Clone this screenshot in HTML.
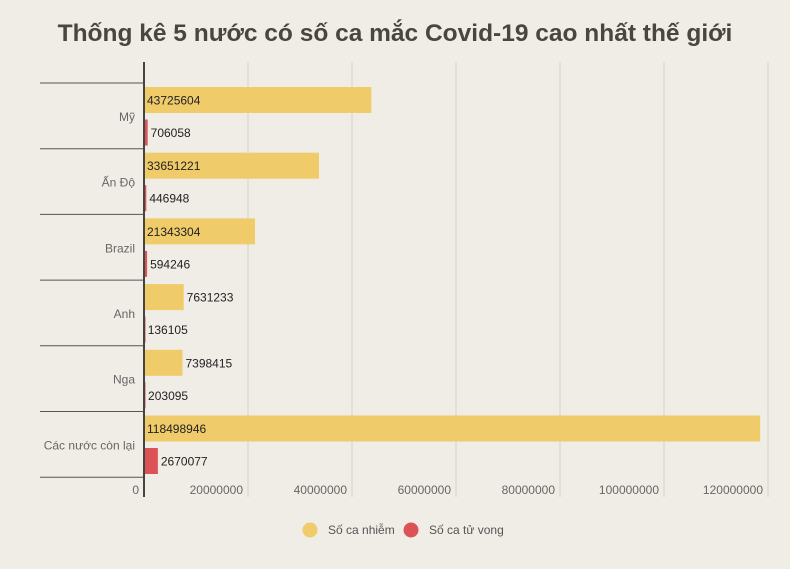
<!DOCTYPE html>
<html><head><meta charset="utf-8"><style>
html,body{margin:0;padding:0;background:#f0ede7;}
body{width:790px;height:569px;overflow:hidden;font-family:"Liberation Sans","Noto Sans CJK SC",sans-serif;}
h1{position:absolute;left:0;width:790px;top:20px;margin:0;text-align:center;font-size:24.5px;font-weight:bold;color:#4a4540;}
</style></head><body>
<h1>Thống kê 5 nước có số ca mắc Covid-19 cao nhất thế giới</h1>
<svg id="chart" width="790" height="569" style="position:absolute;left:0;top:0" xmlns="http://www.w3.org/2000/svg"></svg>
<script>
const categories=["Mỹ","Ấn Độ","Brazil","Anh","Nga","Các nước còn lại"];
const cases=[43725604,33651221,21343304,7631233,7398415,118498946];
const deaths=[706058,446948,594246,136105,203095,2670077];
const ticks=[0,20000000,40000000,60000000,80000000,100000000,120000000];
const seriesNames=["Số ca nhiễm","Số ca tử vong"];
const colors=["#f0cb69","#dc5357"];
const svg=document.getElementById('chart');
const NS="http://www.w3.org/2000/svg";
const x0=144,pxPer=104/20000000,y0=83,band=65.7;
const x=v=>x0+v*pxPer;
function mk(t,a,txt){const e=document.createElementNS(NS,t);for(const k in a)e.setAttribute(k,a[k]);if(txt!=null)e.textContent=txt;svg.appendChild(e);return e;}
ticks.forEach(t=>{
  if(t>0){const g=mk('line',{x1:x(t),x2:x(t),y1:62,y2:497,stroke:'#d6d2cb','stroke-width':1});
  
  }
  const l=mk('text',{x:x(t)-5,y:494,'text-anchor':'end','font-size':12,fill:'#666'},String(t));
  
  
});
for(let i=0;i<=categories.length;i++){
  const s=mk('line',{x1:40,x2:x0,y1:y0+i*band,y2:y0+i*band,stroke:'#555','stroke-width':1});
  
  
}
categories.forEach((c,i)=>{
  const y=y0+i*band;
  const cl=mk('text',{x:135,y:y+band/2+5,'text-anchor':'end','font-size':12,fill:'#666'},c);
  
  
  [cases[i],deaths[i]].forEach((v,k)=>{
    const by=y+4+k*32.5;
    const r=mk('rect',{x:x0,y:by,width:Math.max(x(v)-x0,1.5),height:26,fill:colors[k]});
    
    
    const w=x(v)-x0;
    const lx=w>100?x0+3:x(v)+3;
    const t=mk('text',{x:lx,y:by+17.5,'font-size':12,fill:'#222'},String(v));
    
    
  });
});
const ax=mk('line',{x1:x0,x2:x0,y1:62,y2:497,stroke:'#444','stroke-width':2});


const legendX=[310,411];
seriesNames.forEach((n,k)=>{
  const c=mk('circle',{cx:legendX[k],cy:530,r:7.5,fill:colors[k]});
  
  
  const t=mk('text',{x:legendX[k]+18,y:534,'font-size':12,fill:'#555'},n);
  
  
});
</script>
</body></html>
